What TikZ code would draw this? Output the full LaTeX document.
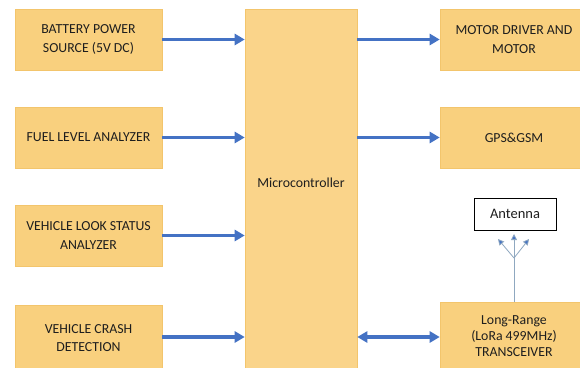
\documentclass[tikz,border=0pt]{standalone}
\usepackage{fontspec}
\setmainfont{Carlito}
\usetikzlibrary{arrows.meta}

\definecolor{boxgold}{HTML}{F9D07E}
\definecolor{boxedge}{HTML}{F3C56C}
\definecolor{mcugold}{HTML}{FAD48A}
\definecolor{linkblue}{HTML}{4472C4}
\definecolor{stemgray}{HTML}{8FA8C0}
\definecolor{txtgray}{HTML}{1E1E1E}

\tikzset{
    block/.style={draw=boxedge, fill=boxgold, line width=0.6pt, align=center,
        text=txtgray, font=\fontsize{13.8}{18.5}\selectfont, inner sep=0pt},
    sideblock/.style={block, minimum width=147pt, minimum height=61pt},
    link/.style={draw=linkblue, line width=3.8pt,
        -{Triangle[width=11pt,length=10pt]}},
    duallink/.style={link, {Triangle[width=11pt,length=10pt]}-{Triangle[width=11pt,length=10pt]}},
    feed/.style={draw=stemgray, line width=0.8pt,
        -{Triangle[width=6pt,length=6pt,fill=linkblue]}}
}

\begin{document}
\begin{tikzpicture}[x=1pt, y=-1pt]
             %\draw[lightgray] (0, 0) grid (580, 367);
             \useasboundingbox (0, 0) rectangle (580, 367);
             \clip (0, 0) rectangle (580, 367);
             \fill[white] (0, 0) rectangle (580, 367);

             % inputs
             \node[sideblock] (battery) at (88.5, 39.5) {BATTERY POWER\\SOURCE (5V DC)};
             \node[sideblock] (fuel) at (88.5, 137.5) {FUEL LEVEL ANALYZER};
             \node[sideblock] (look) at (88.5, 235.5) {VEHICLE LOOK STATUS\\ANALYZER};
             \node[sideblock, minimum height=66pt] (crash) at (88.5, 338) {VEHICLE CRASH\\DETECTION};

             % controller
             \node[block, fill=mcugold, minimum width=112pt, minimum height=364pt] (mcu) at (301, 191) {};
             \node[font=\fontsize{13.8}{16}\selectfont, text=txtgray] (mculabel) at (301, 183) {Microcontroller};

             % outputs
             \node[sideblock, minimum width=148pt] (motor) at (514, 39.5) {MOTOR DRIVER AND\\MOTOR};
             \node[sideblock, minimum width=148pt] (gps) at (514, 137.5) {GPS\&GSM};
             \node[sideblock, minimum width=148pt, minimum height=68pt,
                 font=\fontsize{13.8}{16}\selectfont] (lora) at (514, 336) {Long-Range\\(LoRa 499MHz)\\TRANSCEIVER};
             \node[draw=black, fill=white, line width=1pt, minimum width=82pt, minimum height=32pt,
                 font=\fontsize{14.5}{16}\selectfont, text=txtgray] (antenna) at (515, 214) {Antenna};

             % links
             \draw[link] (battery.east) -- (battery.east -| mcu.west);
             \draw[link] (fuel.east) -- (fuel.east -| mcu.west);
             \draw[link] (look.east) -- (look.east -| mcu.west);
             \draw[link] (crash.east |- 0, 337) -- (mcu.west |- 0, 337);
             \draw[link] (mcu.east |- motor.west) -- (motor.west);
             \draw[link] (mcu.east |- gps.west) -- (gps.west);
             \draw[duallink] (mcu.east |- 0, 337) -- (lora.west |- 0, 337);

             % aerial
             \coordinate (split) at (514, 258);
             \draw[draw=stemgray, line width=0.8pt] (lora.north -| split) -- (split);
             \draw[feed] (split) -- (514, 234);
             \draw[feed] (split) -- (498, 239);
             \draw[feed] (split) -- (529, 239);
         \end{tikzpicture}
\end{document}
